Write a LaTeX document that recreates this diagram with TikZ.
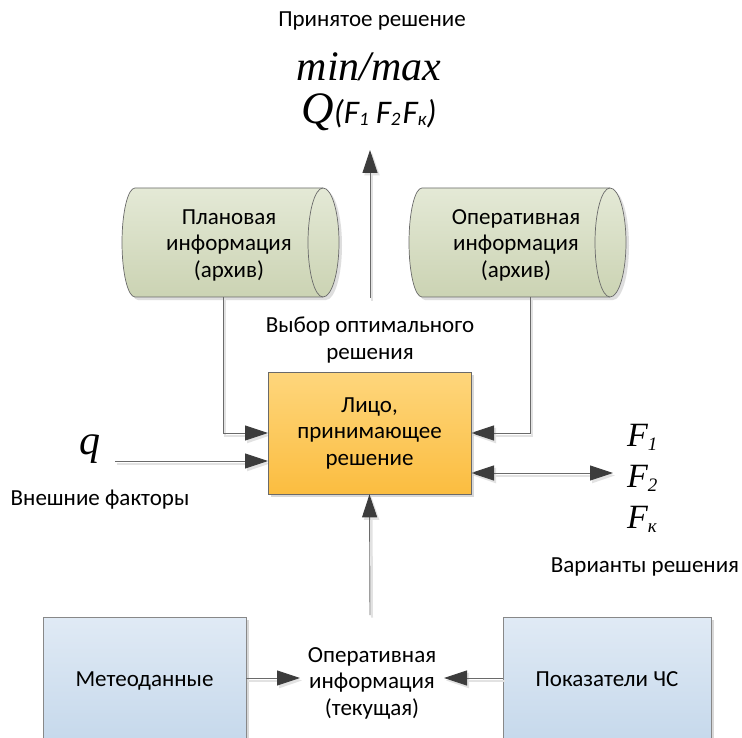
\documentclass[tikz,border=0pt]{standalone}
\usepackage{fontspec}
\setmainfont{Carlito}
\newfontfamily\tnr{Liberation Serif}
\usetikzlibrary{arrows.meta,shadows}
\definecolor{linegray}{HTML}{6A6A6A}
\definecolor{tipgray}{HTML}{3C3C3C}
\definecolor{shgray}{HTML}{E2E2E2}
\definecolor{cyltop}{HTML}{E4E9D6}
\definecolor{cylbot}{HTML}{CBD3B3}
\definecolor{orgtop}{HTML}{FED67C}
\definecolor{orgbot}{HTML}{FBBD40}
\definecolor{blutop}{HTML}{E0EAF5}
\definecolor{blubot}{HTML}{C5D8EB}
\tikzset{
  lbl/.style={font=\fontsize{23}{26.5}\selectfont, align=center, inner sep=0pt},
  arr/.style={draw=linegray, line width=0.9pt, -{Triangle[length=23pt,width=15pt,color=tipgray]},
    preaction={draw=shgray, line width=2pt, -{Triangle[length=23pt,width=15pt,color=shgray]}, transform canvas={xshift=2pt,yshift=-2.5pt}}},
  darr/.style={draw=linegray, line width=0.9pt, {Triangle[length=23pt,width=15pt,color=tipgray]}-{Triangle[length=23pt,width=15pt,color=tipgray]},
    preaction={draw=shgray, line width=2pt, {Triangle[length=23pt,width=15pt,color=shgray]}-{Triangle[length=23pt,width=15pt,color=shgray]}, transform canvas={xshift=2pt,yshift=-2.5pt}}},
  cylshape/.style={draw=linegray, line width=0.7pt, top color=cyltop, bottom color=cylbot},
  bluebox/.style={draw=linegray!80, line width=0.6pt, top color=blutop, bottom color=blubot, minimum width=203pt, minimum height=128pt, inner sep=0pt, font=\fontsize{23}{26.5}\selectfont,
    drop shadow={shadow xshift=3pt, shadow yshift=-3pt, fill=black!30, opacity=0.5}},
  orangebox/.style={draw=linegray, line width=0.7pt, top color=orgtop, bottom color=orgbot, minimum width=203pt, minimum height=122pt, inner sep=0pt, align=center, font=\fontsize{23}{26.5}\selectfont,
    drop shadow={shadow xshift=3pt, shadow yshift=-3pt, fill=black!30, opacity=0.5}},
  mathit/.style={font=\tnr\itshape, inner sep=0pt},
  Fvar/.style={font=\tnr\itshape\fontsize{34}{34}\selectfont, inner sep=0pt, anchor=west},
}
\newcommand\qsub[1]{\raisebox{-2pt}{\fontsize{19}{19}\selectfont #1}}
\begin{document}
\begin{tikzpicture}[x=1pt,y=-1pt]
\clip (0,0) rectangle (742,738);
\fill[white] (0,0) rectangle (742,738);

% top texts
\node[lbl] (title) at (372,21) {Принятое решение};
\node[mathit, font=\tnr\itshape\fontsize{42}{42}\selectfont] (minmax) at (369,67) {min/max};
\node[inner sep=0pt] (Q) at (369,112) {{\tnr\itshape\fontsize{45}{45}\selectfont Q}{\itshape\fontsize{33}{33}\selectfont(F\qsub{1}\hspace{7pt}F\qsub{2}\hspace{2pt}F\qsub{к})}};

% cylinders
\fill[black!25, opacity=0.5] (138,191) -- (326,191) arc[start angle=90,end angle=-90,x radius=16pt,y radius=54.5pt] -- (138,300) arc[start angle=270,end angle=90,x radius=13pt,y radius=54.5pt] -- cycle;
\path[cylshape] (135,188) -- (323,188) arc[start angle=90,end angle=-90,x radius=16pt,y radius=54.5pt] -- (135,297) arc[start angle=270,end angle=90,x radius=13pt,y radius=54.5pt] -- cycle;
\draw[draw=linegray, line width=0.7pt] (323,188) arc[start angle=90,end angle=270,x radius=15pt,y radius=54.5pt];
\node[lbl] (cylL) at (229,245) {Плановая\\информация\\(архив)};

\fill[black!25, opacity=0.5] (425,191) -- (613,191) arc[start angle=90,end angle=-90,x radius=16pt,y radius=54.5pt] -- (425,300) arc[start angle=270,end angle=90,x radius=13pt,y radius=54.5pt] -- cycle;
\path[cylshape] (422,188) -- (610,188) arc[start angle=90,end angle=-90,x radius=16pt,y radius=54.5pt] -- (422,297) arc[start angle=270,end angle=90,x radius=13pt,y radius=54.5pt] -- cycle;
\draw[draw=linegray, line width=0.7pt] (610,188) arc[start angle=90,end angle=270,x radius=15pt,y radius=54.5pt];
\node[lbl] (cylR) at (516,245) {Оперативная\\информация\\(архив)};

% center
\node[lbl] (choice) at (370,340) {Выбор оптимального\\решения};

% up arrow to top
\coordinate (upstart) at (370,298);
\coordinate (uptip) at (370,150);
\draw[arr] (upstart) -- (uptip);

% from cylinders
\coordinate (cLb) at (223,297);
\coordinate (cRb) at (530,297);
\coordinate (lprW) at (268,433);
\coordinate (lprE) at (471,433);
\draw[arr] (cLb) |- (lprW);
\draw[arr] (cRb) |- (lprE);

% q
\node[mathit, font=\tnr\itshape\fontsize{42}{42}\selectfont] (q) at (90,449) {q};
\coordinate (qs) at (115,461);
\coordinate (qe) at (268,461);
\draw[arr] (qs) -- (qe);
\node[lbl] (ext) at (100,500) {Внешние факторы};

% F variants
\coordinate (fstart) at (471,473);
\coordinate (fend) at (613,473);
\draw[darr] (fstart) -- (fend);
\node[Fvar] (F1) at (627,437) {F\textsubscript{\fontsize{19}{19}\selectfont 1}};
\node[Fvar] (F2) at (627,478) {F\textsubscript{\fontsize{19}{19}\selectfont 2}};
\node[Fvar] (Fk) at (627,519) {F\textsubscript{\fontsize{19}{19}\selectfont к}};
\node[lbl] (var) at (645,567) {Варианты решения};

% bottom
\node[bluebox] (met) at (144.5,681) {\raisebox{3pt}{Метеоданные}};
\node[bluebox, minimum width=208pt] (pok) at (607,681) {\raisebox{3pt}{Показатели ЧС}};
\node[lbl] (cur) at (372,683) {Оперативная\\информация\\(текущая)};
\coordinate (botstart) at (370,615);
\coordinate (mtip) at (300,678);
\coordinate (ptip) at (444,678);
\draw[arr] (met.east |- mtip) -- (mtip);
\draw[arr] (pok.west |- ptip) -- (ptip);

% central box on top of the arrow shadows
\node[orangebox] (lpr) at (369.5,433) {Лицо,\\принимающее\\решение};
\draw[arr] (botstart) -- (lpr.south);
\end{tikzpicture}
\end{document}
